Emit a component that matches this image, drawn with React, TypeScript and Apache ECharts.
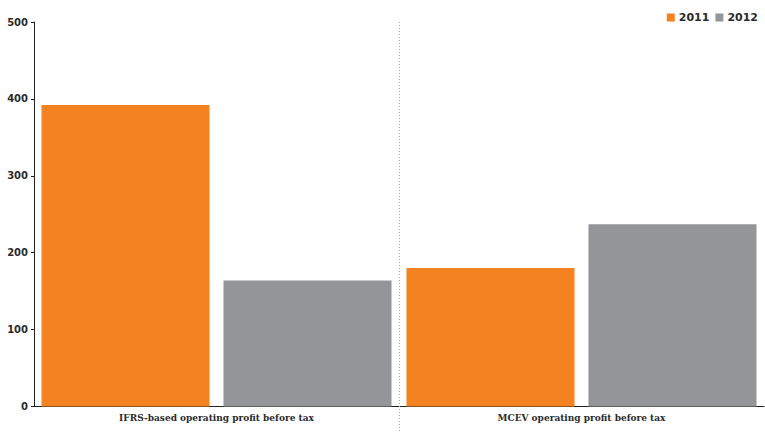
import React, { useEffect, useRef } from "react";
import * as echarts from "echarts";

const categories = ["IFRS-based operating profit before tax", "MCEV operating profit before tax"];
const years = ["2011", "2012"];
const values2011 = [392, 180];
const values2012 = [164, 237];
const yTicks = [0, 100, 200, 300, 400, 500];

const ORANGE = "#F58220";
const GRAY = "#939598";

export default function App() {
  const ref = useRef<HTMLDivElement>(null);

  useEffect(() => {
    if (!ref.current) return;
    const chart = echarts.init(ref.current, undefined, { renderer: "svg" });
    const labelFont = { fontFamily: "DejaVu Sans", fontWeight: "bold" as const, fontSize: 10, color: "#2b2b2b" };

    chart.setOption({
      animation: false,
      backgroundColor: "#ffffff",
      legend: {
        right: 2,
        top: 7,
        itemWidth: 8,
        itemHeight: 8,
        itemGap: 6,
        icon: "rect",
        data: years,
        textStyle: { ...labelFont, fontSize: 11, padding: [0, 0, 0, -1] },
      },
      grid: { left: 34, right: 1, top: 22, bottom: 25.5, containLabel: false },
      xAxis: {
        type: "category",
        data: categories,
        axisLine: { show: true, lineStyle: { color: "#222", width: 1 } },
        axisTick: { show: false },
        axisLabel: {
          fontFamily: "DejaVu Serif",
          fontWeight: "bold",
          fontSize: 9,
          color: "#2b2b2b",
          margin: 7,
        },
        splitLine: { show: false },
      },
      yAxis: {
        type: "value",
        min: yTicks[0],
        max: yTicks[yTicks.length - 1],
        interval: 100,
        axisLine: { show: true, lineStyle: { color: "#222", width: 1 } },
        axisTick: { show: true, length: 3, lineStyle: { color: "#222" } },
        axisLabel: { ...labelFont, margin: 6 },
        splitLine: { show: false },
      },
      series: [
        {
          name: years[0],
          type: "bar",
          data: values2011,
          itemStyle: { color: ORANGE },
          barGap: "8.3%",
          barCategoryGap: "4.1%",
        },
        {
          name: years[1],
          type: "bar",
          data: values2012,
          itemStyle: { color: GRAY },
          barGap: "8.3%",
          barCategoryGap: "4.1%",
        },
      ],
      graphic: [
        {
          type: "line",
          shape: { x1: 399.5, y1: 22, x2: 399.5, y2: 432 },
          style: { stroke: "#a6a6a6", lineWidth: 1, lineDash: [1, 2] },
          z: 1,
        },
      ],
    });

    return () => chart.dispose();
  }, []);

  return (
    <div
      ref={ref}
      style={{ position: "absolute", left: 0, top: 0, width: 765, height: 432 }}
    />
  );
}
